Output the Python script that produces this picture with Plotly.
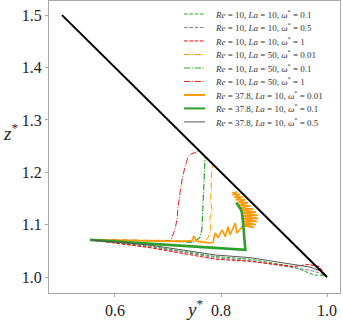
import plotly.graph_objects as go

# Data: inclined wall z* = 2 - y*
wall_y = [0.5, 1.0]
wall_z = [1.5, 1.0]

# Re = 10, La = 10 (dashed)
r10_l10_w01_y = [0.553, 0.666, 0.79, 0.855, 0.936, 0.96, 0.975, 0.99, 1.0]
r10_l10_w01_z = [1.071, 1.059, 1.039, 1.034, 1.020, 1.010, 1.004, 1.003, 1.0]
r10_l10_w05_y = [0.553, 0.666, 0.79, 0.855, 0.936, 0.968, 0.985, 1.0]
r10_l10_w05_z = [1.071, 1.058, 1.037, 1.031, 1.018, 1.013, 1.008, 1.0]
r10_l10_w1_y = [0.553, 0.666, 0.79, 0.855, 0.936, 0.965, 0.985, 1.0]
r10_l10_w1_z = [1.071, 1.056, 1.034, 1.030, 1.020, 1.024, 1.020, 1.0]

# Re = 10, La = 50 (dash-dot)
r10_l50_w001_y = [0.553, 0.70, 0.77, 0.776, 0.781, 0.779, 0.783, 0.780, 0.782, 0.781, 0.783, 0.785]
r10_l50_w001_z = [1.071, 1.070, 1.068, 1.076, 1.090, 1.110, 1.128, 1.147, 1.166, 1.185, 1.204, 1.215]
r10_l50_w01_y = [0.553, 0.70, 0.747, 0.760, 0.764, 0.766, 0.768, 0.770]
r10_l50_w01_z = [1.071, 1.069, 1.066, 1.075, 1.091, 1.137, 1.190, 1.229]
r10_l50_w1_y = [0.553, 0.62, 0.704, 0.7075, 0.713, 0.717, 0.719, 0.7226, 0.7264, 0.732,
                0.738, 0.7453, 0.751, 0.757]
r10_l50_w1_z = [1.071, 1.070, 1.069, 1.076, 1.090, 1.110, 1.134, 1.160, 1.185, 1.210,
                1.230, 1.236, 1.237, 1.240]

# Re = 37.8, La = 10 (solid)
r38_l10_w001_y = [0.553, 0.65, 0.72, 0.745, 0.749, 0.755, 0.78, 0.785, 0.789, 0.795, 0.802,
                  0.808, 0.813, 0.817, 0.827, 0.830, 0.842,
                  0.862, 0.842, 0.866, 0.841, 0.868, 0.840, 0.870, 0.839, 0.870, 0.838,
                  0.866, 0.837, 0.861, 0.835, 0.856, 0.833, 0.851, 0.831, 0.846, 0.828,
                  0.841, 0.825, 0.836, 0.822, 0.831, 0.821]
r38_l10_w001_z = [1.071, 1.069, 1.068, 1.069, 1.078, 1.068, 1.065, 1.066, 1.084, 1.075, 1.090,
                  1.077, 1.096, 1.081, 1.103, 1.084, 1.098,
                  1.094, 1.102, 1.100, 1.107, 1.106, 1.112, 1.112, 1.117, 1.118, 1.122,
                  1.124, 1.127, 1.130, 1.132, 1.136, 1.137, 1.142, 1.142, 1.148, 1.147,
                  1.153, 1.152, 1.158, 1.157, 1.162, 1.161]
r38_l10_w01_y = [0.553, 0.70, 0.80, 0.846, 0.845, 0.844, 0.842, 0.840, 0.838, 0.833, 0.8285]
r38_l10_w01_z = [1.071, 1.061, 1.055, 1.052, 1.062, 1.080, 1.100, 1.120, 1.128, 1.136, 1.1415]
r38_l10_w05_y = [0.553, 0.666, 0.79, 0.855, 0.936, 0.968, 0.987, 1.0]
r38_l10_w05_z = [1.071, 1.061, 1.042, 1.037, 1.024, 1.019, 1.012, 1.0]

labels = [
    "<i>Re</i> = 10, <i>La</i> = 10, <i>ω</i><sup>*</sup> = 0.1",
    "<i>Re</i> = 10, <i>La</i> = 10, <i>ω</i><sup>*</sup> = 0.5",
    "<i>Re</i> = 10, <i>La</i> = 10, <i>ω</i><sup>*</sup> = 1",
    "<i>Re</i> = 10, <i>La</i> = 50, <i>ω</i><sup>*</sup> = 0.01",
    "<i>Re</i> = 10, <i>La</i> = 50, <i>ω</i><sup>*</sup> = 0.1",
    "<i>Re</i> = 10, <i>La</i> = 50, <i>ω</i><sup>*</sup> = 1",
    "<i>Re</i> = 37.8, <i>La</i> = 10, <i>ω</i><sup>*</sup> = 0.01",
    "<i>Re</i> = 37.8, <i>La</i> = 10, <i>ω</i><sup>*</sup> = 0.1",
    "<i>Re</i> = 37.8, <i>La</i> = 10, <i>ω</i><sup>*</sup> = 0.5",
]
series = [
    (r10_l10_w01_y, r10_l10_w01_z), (r10_l10_w05_y, r10_l10_w05_z), (r10_l10_w1_y, r10_l10_w1_z),
    (r10_l50_w001_y, r10_l50_w001_z), (r10_l50_w01_y, r10_l50_w01_z), (r10_l50_w1_y, r10_l50_w1_z),
    (r38_l10_w001_y, r38_l10_w001_z), (r38_l10_w01_y, r38_l10_w01_z), (r38_l10_w05_y, r38_l10_w05_z),
]

SERIF = "Liberation Serif"
DASH = "3.7px,1.6px"
DASHDOT = "6.4px,1.6px,1px,1.6px"
colors = ["#2ca02c", "#808080", "#ff0000", "#ff9900", "#2ca02c", "#d62728",
          "#ff9900", "#2ca02c", "#555555"]
dashes = [DASH, DASH, DASH, DASHDOT, DASHDOT, DASHDOT, "solid", "solid", "solid"]
widths = [1, 1, 1, 1, 1.2, 1, 1.6, 2.6, 1]
legend_widths = [1, 1, 1, 1, 1, 1, 2, 2, 1]

fig = go.Figure()

for (ys, zs), c, d, w in zip(series, colors, dashes, widths):
    fig.add_trace(go.Scatter(x=ys, y=zs, mode="lines", showlegend=False,
                             line=dict(color=c, dash=d, width=w)))

fig.add_trace(go.Scatter(x=wall_y, y=wall_z, mode="lines", showlegend=False,
                         line=dict(color="black", width=2)))

# hand-made legend (compact rows like the matplotlib one)
shapes = []
annotations = []
row0, step = 0.9555, 0.0462
for i, lab in enumerate(labels):
    yy = row0 - i * step
    shapes.append(dict(type="line", xref="paper", yref="paper", x0=0.464, x1=0.536,
                       y0=yy, y1=yy,
                       line=dict(color=colors[i], dash=dashes[i], width=legend_widths[i])))
    annotations.append(dict(text=lab, xref="paper", yref="paper", x=0.5636, y=yy,
                            xanchor="left", yanchor="middle", showarrow=False,
                            font=dict(family=SERIF, size=9, color="#333333")))

annotations.append(dict(text="<i>z</i><sup>*</sup>", xref="paper", yref="paper",
                        x=-0.165, y=0.55, xanchor="left", showarrow=False,
                        font=dict(family=SERIF, size=19)))
annotations.append(dict(text="<i>y</i><sup>*</sup>", xref="paper", yref="paper",
                        x=0.5, y=-0.1, showarrow=False,
                        font=dict(family=SERIF, size=19)))

fig.update_layout(
    width=343, height=334,
    margin=dict(l=49, r=3, t=1, b=41),
    paper_bgcolor="white", plot_bgcolor="white",
    font=dict(family=SERIF, color="#222222"),
    shapes=shapes, annotations=annotations,
    showlegend=False,
)

fig.update_xaxes(range=[0.4755, 1.0245], tickvals=[0.6, 0.8, 1.0], tickformat=".1f",
                 showgrid=False, zeroline=False, showline=True, mirror=True,
                 linecolor="#a8a8a8", linewidth=1, ticks="outside", ticklen=3,
                 tickcolor="#a8a8a8", tickfont=dict(family=SERIF, size=16))
fig.update_yaxes(range=[0.9695, 1.527], tickvals=[1.0, 1.1, 1.2, 1.3, 1.4, 1.5],
                 tickformat=".1f", showgrid=False, zeroline=False, showline=True,
                 mirror=True, linecolor="#a8a8a8", linewidth=1, ticks="outside",
                 ticklen=3, tickcolor="#a8a8a8", tickfont=dict(family=SERIF, size=16))

# drop the page margin so the figure sits at the window origin
fig.write_html("out.html", config={"displayModeBar": False},
               post_script="document.body.style.margin='0';")
